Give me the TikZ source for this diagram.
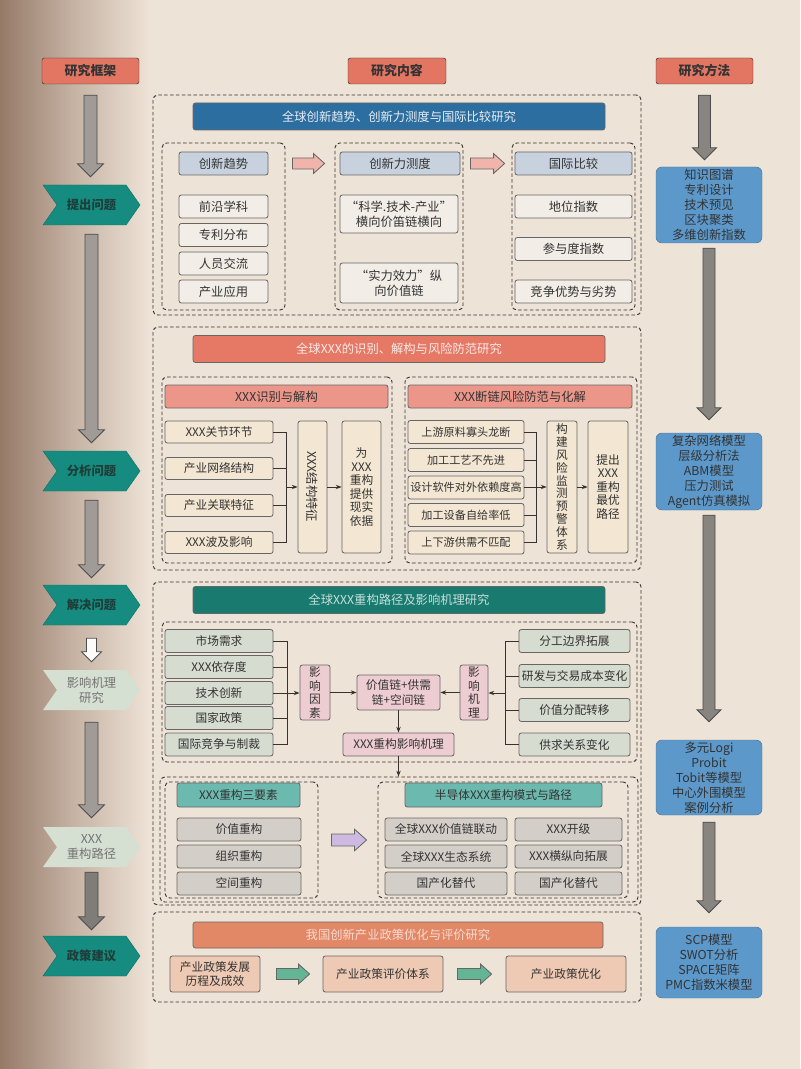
\documentclass[tikz,border=0pt]{standalone}
\usepackage{fontspec}
\setmainfont{Noto Sans CJK SC}
\usetikzlibrary{arrows.meta,shapes.symbols,positioning,calc}

\definecolor{bgbase}{RGB}{238,227,215}
\definecolor{bgdark}{RGB}{150,122,104}
\definecolor{salmon}{RGB}{226,118,98}
\definecolor{tealc}{RGB}{22,140,128}
\definecolor{tealdark}{RGB}{25,122,112}
\definecolor{tealtxt}{RGB}{30,62,58}
\definecolor{fadechev}{RGB}{214,224,210}
\definecolor{arrgrey}{RGB}{160,155,150}
\definecolor{methodblue}{RGB}{92,152,202}
\definecolor{titleblue}{RGB}{45,110,160}
\definecolor{headgrey}{RGB}{200,210,222}
\definecolor{itemlight}{RGB}{242,237,230}
\definecolor{pinkarr}{RGB}{240,180,170}
\definecolor{titlered}{RGB}{230,120,102}
\definecolor{headred}{RGB}{236,150,138}
\definecolor{itembeige}{RGB}{243,230,210}
\definecolor{itemgreen}{RGB}{214,220,208}
\definecolor{pinkbox}{RGB}{238,205,210}
\definecolor{headteal}{RGB}{108,186,175}
\definecolor{itemgrey}{RGB}{212,206,200}
\definecolor{purplearr}{RGB}{205,186,225}
\definecolor{titleorange}{RGB}{226,136,102}
\definecolor{peach}{RGB}{238,202,180}
\definecolor{greenarr}{RGB}{100,180,150}
\definecolor{linec}{RGB}{55,50,45}

% fat block arrows: style, from, to, gap at start, gap at end, half shaft width
\newcommand{\fatdown}[6]{%
  \draw[#1] ($(#2.south)+(-#6,#4)$) -- ($(#2.south |- #3.north)+(-#6,-#5-2*#6)$)
    -- ($(#2.south |- #3.north)+(-2*#6,-#5-2*#6)$) -- ($(#2.south |- #3.north)+(0,-#5)$)
    -- ($(#2.south |- #3.north)+(2*#6,-#5-2*#6)$) -- ($(#2.south |- #3.north)+(#6,-#5-2*#6)$)
    -- ($(#2.south)+(#6,#4)$) -- cycle;}
\newcommand{\fatright}[6]{%
  \draw[#1] ($(#2.east)+(#4,-#6)$) -- ($(#3.west |- #2.east)+(-#5-2*#6,-#6)$)
    -- ($(#3.west |- #2.east)+(-#5-2*#6,-1.8*#6)$) -- ($(#3.west |- #2.east)+(-#5,0)$)
    -- ($(#3.west |- #2.east)+(-#5-2*#6,1.8*#6)$) -- ($(#3.west |- #2.east)+(-#5-2*#6,#6)$)
    -- ($(#2.east)+(#4,#6)$) -- cycle;}

\begin{document}
\begin{tikzpicture}[x=0.3mm, y=-0.3mm,
    font=\fontsize{10.5}{13}\selectfont,
    sz/.style 2 args={minimum width=#1*0.3mm, minimum height=#2*0.3mm},
    colhead/.style={draw=linec, fill=salmon, rounded corners=2pt, inner sep=0pt, font=\fontsize{11}{13}\selectfont\bfseries, text=black!80},
    chev/.style={signal, signal from=west, signal to=east, signal pointer angle=110, draw=tealc!80!black, fill=tealc, inner sep=0pt, sz={97}{40}, font=\fontsize{10.5}{12}\selectfont\bfseries, text=tealtxt, align=center},
    chevfade/.style={chev, draw=none, fill=fadechev, text=black!55, font=\fontsize{10.5}{13}\selectfont},
    method/.style={draw=methodblue!80!black, fill=methodblue, rounded corners=5pt, inner sep=0pt, align=center, sz={106}{76}, font=\fontsize{10.5}{12.8}\selectfont, text=black!80},
    colarr/.style={draw=black!70, fill=arrgrey, line width=0.7pt},
    dashframe/.style={draw=linec, dash pattern=on 3pt off 2pt, line width=0.8pt, rounded corners=4pt, inner sep=0pt},
    titlebar/.style={draw=black!60, line width=0.6pt, rounded corners=2pt, inner sep=0pt, sz={412}{27}},
    item/.style={draw=black!60, line width=0.7pt, rounded corners=2pt, inner sep=0pt, align=center, text=black!80},
    link/.style={draw=linec, line width=0.8pt},
    arr/.style={link, -{Stealth[length=5pt]}}
]
% background
\fill[bgbase] (0,0) rectangle (800,1069);
\shade[left color=bgdark, right color=bgbase, middle color=bgdark!45!bgbase] (0,0) rectangle (150,1069);
\useasboundingbox (0,0) rectangle (800,1069);

% column heads
\node[colhead, sz={97}{26}] (hFrame) at (90.5,71) {研究框架};
\node[colhead, sz={98}{26}] (hContent) at (397,71) {研究内容};
\node[colhead, sz={97}{26}] (hMethod) at (704.5,71) {研究方法};

% left column
\node[chev] (q1) at (91.5,205) {提出问题};
\node[chev] (q2) at (91.5,471) {分析问题};
\node[chev] (q3) at (91.5,605) {解决问题};
\node[chevfade] (q4) at (91.5,690) {影响机理\\研究};
\node[chevfade] (q5) at (91.5,847) {XXX\\重构路径};
\node[chev] (q6) at (91.5,956) {政策建议};

\fatdown{colarr}{hFrame}{q1}{11}{8}{6.5}
\fatdown{colarr}{q1}{q2}{9}{8}{6.5}
\fatdown{colarr}{q2}{q3}{9}{7}{6.5}
\fatdown{colarr, fill=white!85!bgbase}{q3}{q4}{13}{8}{5}
\fatdown{colarr}{q4}{q5}{12}{9}{6.5}
\fatdown{colarr, fill=arrgrey!80!black}{q5}{q6}{5}{6}{6.5}

% right column
\node[method] (m1) at (709,205) {知识图谱\\专利设计\\技术预见\\区块聚类\\多维创新指数};
\node[method, sz={106}{77}] (m2) at (709,471.5) {复杂网络模型\\层级分析法\\ABM模型\\压力测试\\Agent仿真模拟};
\node[method, sz={106}{75}] (m3) at (709,777.5) {多元Logi\\Probit\\Tobit等模型\\中心外围模型\\案例分析};
\node[method, sz={106}{71}] (m4) at (709,962.5) {SCP模型\\SWOT分析\\SPACE矩阵\\PMC指数米模型};

\fatdown{colarr, fill=arrgrey!85!black}{hMethod}{m1}{11}{7}{6}
\fatdown{colarr, fill=arrgrey!85!black}{m1}{m2}{5}{13}{6}
\fatdown{colarr, fill=arrgrey!85!black}{m2}{m3}{5}{18}{6}
\fatdown{colarr, fill=arrgrey!85!black}{m3}{m4}{7}{14}{6}

% section 1
\node[dashframe, sz={488}{220}] (f1) at (397,205) {};
\node[titlebar, fill=titleblue, text=white!88!titleblue] (t1) at (399,116.5) {全球创新趋势、创新力测度与国际比较研究};
\node[dashframe, sz={123}{167}] (f1a) at (223.5,226.5) {};
\node[dashframe, sz={128}{167}] (f1b) at (399,226.5) {};
\node[dashframe, sz={123}{167}] (f1c) at (573.5,226.5) {};

\node[item, fill=headgrey, sz={89}{23}] (a1) at (223.5,163.5) {创新趋势};
\node[item, fill=itemlight, sz={89}{23}] (a2) at (223.5,206.5) {前沿学科};
\node[item, fill=itemlight, sz={89}{23}] (a3) at (223.5,235) {专利分布};
\node[item, fill=itemlight, sz={89}{23}] (a4) at (223.5,263.5) {人员交流};
\node[item, fill=itemlight, sz={89}{23}] (a5) at (223.5,291.5) {产业应用};

\node[item, fill=headgrey, sz={120}{23}] (b1) at (400,163.5) {创新力测度};
\node[item, fill=itemlight, sz={118}{38}] (b2) at (399,214) {“科学.技术-产业”\\横向价笛链横向};
\node[item, fill=itemlight, sz={118}{40}] (b3) at (399,283) {“实力效力”纵\\向价值链};

\node[item, fill=headgrey, sz={117}{23}] (c1) at (573.5,163.5) {国际比较};
\node[item, fill=itemlight, sz={117}{23}] (c2) at (573.5,206.5) {地位指数};
\node[item, fill=itemlight, sz={117}{23}] (c3) at (573.5,249) {参与度指数};
\node[item, fill=itemlight, sz={117}{23}] (c4) at (573.5,291.5) {竞争优势与劣势};

\fatright{draw=black!60, fill=pinkarr, line width=0.7pt}{a1}{b1}{24}{15}{5.5}
\fatright{draw=black!60, fill=pinkarr, line width=0.7pt}{b1}{c1}{10}{10}{5.5}

% section 2
\node[dashframe, sz={488}{243}] (f2) at (397,448.5) {};
\node[titlebar, fill=titlered, text=white!85!titlered] (t2) at (399,349) {全球XXX的识别、解构与风险防范研究};
\node[dashframe, sz={230}{186}] (f2a) at (277,470) {};
\node[dashframe, sz={232}{186}] (f2b) at (521,470) {};
\node[item, fill=headred, sz={223}{23}] (d0) at (276.5,396.5) {XXX识别与解构};
\node[item, fill=headred, sz={224}{23}] (e0) at (520,396.5) {XXX断链风险防范与化解};

\node[item, fill=itembeige, sz={108}{22}, font=\fontsize{10}{12}\selectfont] (d1) at (219,432) {XXX关节环节};
\node[item, fill=itembeige, sz={108}{22}, font=\fontsize{10}{12}\selectfont] (d2) at (219,468.5) {产业网络结构};
\node[item, fill=itembeige, sz={108}{22}, font=\fontsize{10}{12}\selectfont] (d3) at (219,505.5) {产业关联特征};
\node[item, fill=itembeige, sz={108}{22}, font=\fontsize{10}{12}\selectfont] (d4) at (219,542.5) {XXX波及影响};
\node[item, fill=itembeige, sz={29}{132}] (dS) at (312.5,487) {\rotatebox{-90}{XXX结构特征}};
\node[item, fill=itembeige, sz={39}{132}, font=\fontsize{10}{11.5}\selectfont] (dR) at (361.5,487) {为\\XXX\\重构\\提供\\现实\\依据};
\coordinate (dJ) at (286,487);
\foreach \n in {d1,d2,d3,d4} \draw[link] (\n.east) -- (\n.east -| dJ);
\draw[link] (d1.east -| dJ) -- (d4.east -| dJ);
\draw[arr] (dJ) -- (dJ -| dS.west);
\draw[arr] (dS) -- (dR);

\node[item, fill=itembeige, sz={116}{23}, font=\fontsize{9.5}{12}\selectfont] (e1) at (466,432) {上游原料寡头龙断};
\node[item, fill=itembeige, sz={116}{23}, font=\fontsize{9.5}{12}\selectfont] (e2) at (466,460) {加工工艺不先进};
\node[item, fill=itembeige, sz={116}{23}, font=\fontsize{9.5}{12}\selectfont] (e3) at (466,487.5) {设计软件对外依赖度高};
\node[item, fill=itembeige, sz={116}{23}, font=\fontsize{9.5}{12}\selectfont] (e4) at (466,515) {加工设备自给率低};
\node[item, fill=itembeige, sz={116}{23}, font=\fontsize{9.5}{12}\selectfont] (e5) at (466,542.5) {上下游供需不匹配};
\node[item, fill=itembeige, sz={30}{132}, font=\fontsize{10}{11}\selectfont] (eS) at (562,487) {构\\建\\风\\险\\监\\测\\预\\警\\体\\系};
\node[item, fill=itembeige, sz={40}{132}, font=\fontsize{10}{11.5}\selectfont] (eR) at (608,487) {提出\\XXX\\重构\\最优\\路径};
\coordinate (eJ) at (536,487);
\foreach \n in {e1,e2,e3,e4,e5} \draw[link] (\n.east) -- (\n.east -| eJ);
\draw[link] (e1.east -| eJ) -- (e5.east -| eJ);
\draw[arr] (eJ) -- (eJ -| eS.west);
\draw[arr] (eS) -- (eR);

% section 3
\node[dashframe, sz={488}{323}] (f3) at (397,743.5) {};
\node[titlebar, fill=tealdark, text=white!75!tealdark] (t3) at (399,600) {全球XXX重构路径及影响机理研究};
\node[dashframe, sz={475}{140}] (f3a) at (399.5,692) {};

\node[item, fill=itemgreen, sz={108}{23}, font=\fontsize{10}{12}\selectfont] (g1) at (219,641) {市场需求};
\node[item, fill=itemgreen, sz={108}{23}, font=\fontsize{10}{12}\selectfont] (g2) at (219,667) {XXX依存度};
\node[item, fill=itemgreen, sz={108}{23}, font=\fontsize{10}{12}\selectfont] (g3) at (219,693) {技术创新};
\node[item, fill=itemgreen, sz={108}{23}, font=\fontsize{10}{12}\selectfont] (g4) at (219,718) {国家政策};
\node[item, fill=itemgreen, sz={108}{23}, font=\fontsize{10}{12}\selectfont] (g5) at (219,744.5) {国际竞争与制裁};
\coordinate (gJ) at (287,693);
\node[item, fill=pinkbox, sz={30}{55}, font=\fontsize{10}{11.5}\selectfont] (gF) at (315,692.5) {影\\响\\因\\素};
\node[item, fill=pinkbox, sz={83}{35}, font=\fontsize{10}{12.5}\selectfont] (gC) at (398.5,692.5) {价值链+供需\\链+空间链};
\node[item, fill=pinkbox, sz={111}{23}, font=\fontsize{10}{12}\selectfont] (gM) at (398.5,744.5) {XXX重构影响机理};
\node[item, fill=pinkbox, sz={28}{55}, font=\fontsize{10}{11.5}\selectfont] (gK) at (474,692.5) {影\\响\\机\\理};
\coordinate (hJ) at (505,693);
\node[item, fill=itemgreen, sz={111}{23}, font=\fontsize{10}{12}\selectfont] (h1) at (574.5,641) {分工边界拓展};
\node[item, fill=itemgreen, sz={111}{23}, font=\fontsize{10}{12}\selectfont] (h2) at (574.5,676) {研发与交易成本变化};
\node[item, fill=itemgreen, sz={111}{23}, font=\fontsize{10}{12}\selectfont] (h3) at (574.5,710) {价值分配转移};
\node[item, fill=itemgreen, sz={111}{23}, font=\fontsize{10}{12}\selectfont] (h4) at (574.5,744.5) {供求关系变化};

\foreach \n in {g1,g2,g3,g4,g5} \draw[link] (\n.east) -- (\n.east -| gJ);
\draw[link] (g1.east -| gJ) -- (g5.east -| gJ);
\draw[arr] (gJ) -- (gJ -| gF.west);
\draw[arr] (gF) -- (gC);
\draw[arr] (gC) -- (gM);
\draw[arr] (gK) -- (gC);
\foreach \n in {h1,h2,h3,h4} \draw[link] (\n.west) -- (\n.west -| hJ);
\draw[link] (h1.west -| hJ) -- (h4.west -| hJ);
\draw[arr] (hJ) -- (hJ -| gK.east);

% section 4
\node[dashframe, sz={478}{125}] (f4) at (399,839.5) {};
\node[dashframe, sz={153}{116}] (f4a) at (241.5,840) {};
\node[dashframe, sz={250}{116}] (f4b) at (503,840) {};
\draw[arr] (gM) -- (gM |- f4.north);

\node[item, fill=headteal, sz={123}{24}, font=\fontsize{10}{12}\selectfont] (k0) at (238.5,795) {XXX重构三要素};
\node[item, fill=itemgrey, sz={124}{23}, font=\fontsize{10}{12}\selectfont] (k1) at (239,829.5) {价值重构};
\node[item, fill=itemgrey, sz={124}{23}, font=\fontsize{10}{12}\selectfont] (k2) at (239,856.5) {组织重构};
\node[item, fill=itemgrey, sz={124}{23}, font=\fontsize{10}{12}\selectfont] (k3) at (239,883.5) {空间重构};

\node[item, fill=headteal, sz={197}{24}, font=\fontsize{10}{12}\selectfont] (r0) at (503.5,795) {半导体XXX重构模式与路径};
\node[item, fill=itemgrey, sz={122}{23}, font=\fontsize{10}{12}\selectfont] (r1) at (446,829.5) {全球XXX价值链联动};
\node[item, fill=itemgrey, sz={122}{23}, font=\fontsize{10}{12}\selectfont] (r2) at (446,856.5) {全球XXX生态系统};
\node[item, fill=itemgrey, sz={122}{23}, font=\fontsize{10}{12}\selectfont] (r3) at (446,883.5) {国产化替代};
\node[item, fill=itemgrey, sz={107}{23}, font=\fontsize{10}{12}\selectfont] (s1) at (568.5,829.5) {XXX开级};
\node[item, fill=itemgrey, sz={107}{23}, font=\fontsize{10}{12}\selectfont] (s2) at (568.5,856.5) {XXX横纵向拓展};
\node[item, fill=itemgrey, sz={107}{23}, font=\fontsize{10}{12}\selectfont] (s3) at (568.5,883.5) {国产化替代};

\fatright{draw=black!60, fill=purplearr, line width=0.7pt}{f4a}{f4b}{13}{11}{6}

% section 5
\node[dashframe, sz={488}{90}] (f5) at (397,957) {};
\node[titlebar, fill=titleorange, text=white!70!titleorange, sz={410}{26}] (t5) at (398,935) {我国创新产业政策优化与评价研究};
\node[item, fill=peach, sz={90}{36}, font=\fontsize{10}{12.5}\selectfont] (p1) at (215,974) {产业政策发展\\历程及成效};
\node[item, fill=peach, sz={120}{36}, font=\fontsize{10}{12}\selectfont] (p2) at (383,974) {产业政策评价体系};
\node[item, fill=peach, sz={120}{36}, font=\fontsize{10}{12}\selectfont] (p3) at (566,974) {产业政策优化};

\fatright{draw=black!60, fill=greenarr, line width=0.7pt}{p1}{p2}{16}{13}{5.5}
\fatright{draw=black!60, fill=greenarr, line width=0.7pt}{p2}{p3}{14}{14}{5.5}
\end{tikzpicture}
\end{document}
